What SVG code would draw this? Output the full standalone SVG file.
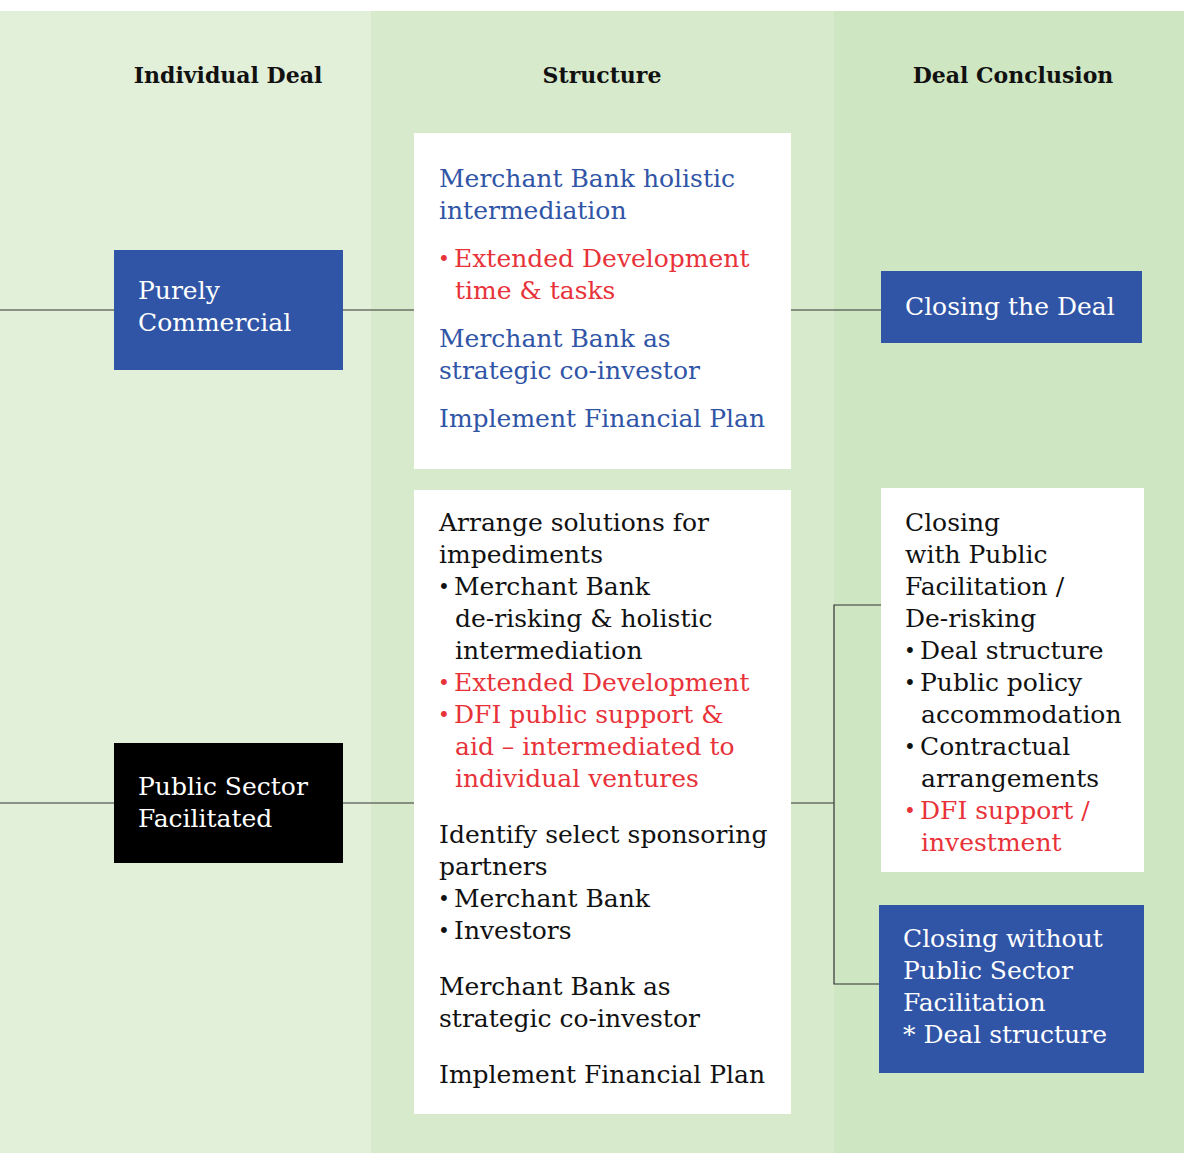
<svg xmlns="http://www.w3.org/2000/svg" width="1184" height="1153" viewBox="0 0 1184 1153">
<style>
text{font-family:"DejaVu Serif","Liberation Serif",serif;font-size:25px;fill:#111}
.h{font-weight:bold;font-size:22px;text-anchor:middle}
.d{font-size:20px}
.b{fill:#3155a6}
.r{fill:#e8323a}
.w{fill:#fff}
.ln{stroke:#333;stroke-width:1.2;fill:none}
</style>
<rect x="0" y="0" width="1184" height="1153" fill="#fff"/>
<rect x="0" y="11" width="371" height="1142" fill="#e2efd9"/>
<rect x="371" y="11" width="463" height="1142" fill="#d8eacc"/>
<rect x="834" y="11" width="350" height="1142" fill="#cfe6c2"/>
<g id="headers">
<text class="h" x="228" y="83">Individual Deal</text>
<text class="h" x="602" y="83">Structure</text>
<text class="h" x="1013" y="83">Deal Conclusion</text>
</g>
<g id="connectors">
<path class="ln" d="M0 310H114M343 310H414M791 310H881"/>
<path class="ln" d="M0 803H114M343 803H414M791 803H834M881 605H834V984H879"/>
</g>
<g id="purely-commercial">
<rect x="114" y="250" width="229" height="120" fill="#3155a6"/>
<text class="w" x="138" y="299">Purely</text>
<text class="w" x="138" y="331">Commercial</text>
</g>
<g id="public-sector-facilitated">
<rect x="114" y="743" width="229" height="120" fill="#000"/>
<text class="w" x="138" y="795">Public Sector</text>
<text class="w" x="138" y="827">Facilitated</text>
</g>
<g id="structure-commercial">
<rect x="414" y="133" width="377" height="336" fill="#fff"/>
<text class="b" x="439" y="187">Merchant Bank holistic</text>
<text class="b" x="439" y="219">intermediation</text>
<text class="r d" x="438" y="266">•</text>
<text class="r" x="454" y="267">Extended Development</text>
<text class="r" x="455" y="299">time &amp; tasks</text>
<text class="b" x="439" y="347">Merchant Bank as</text>
<text class="b" x="439" y="379">strategic co-investor</text>
<text class="b" x="439" y="427">Implement Financial Plan</text>
</g>
<g id="structure-public">
<rect x="414" y="490" width="377" height="624" fill="#fff"/>
<text x="439" y="531">Arrange solutions for</text>
<text x="439" y="563">impediments</text>
<text class="d" x="438" y="594">•</text>
<text x="454" y="595">Merchant Bank</text>
<text x="455" y="627">de-risking &amp; holistic</text>
<text x="455" y="659">intermediation</text>
<text class="r d" x="438" y="690">•</text>
<text class="r" x="454" y="691">Extended Development</text>
<text class="r d" x="438" y="722">•</text>
<text class="r" x="454" y="723">DFI public support &amp;</text>
<text class="r" x="455" y="755">aid – intermediated to</text>
<text class="r" x="455" y="787">individual ventures</text>
<text x="439" y="843">Identify select sponsoring</text>
<text x="439" y="875">partners</text>
<text class="d" x="438" y="906">•</text>
<text x="454" y="907">Merchant Bank</text>
<text class="d" x="438" y="938">•</text>
<text x="454" y="939">Investors</text>
<text x="439" y="995">Merchant Bank as</text>
<text x="439" y="1027">strategic co-investor</text>
<text x="439" y="1083">Implement Financial Plan</text>
</g>
<g id="closing-the-deal">
<rect x="881" y="271" width="261" height="72" fill="#3155a6"/>
<text class="w" x="905" y="315">Closing the Deal</text>
</g>
<g id="closing-with-public">
<rect x="881" y="488" width="263" height="384" fill="#fff"/>
<text x="905" y="531">Closing</text>
<text x="905" y="563">with Public</text>
<text x="905" y="595">Facilitation /</text>
<text x="905" y="627">De-risking</text>
<text class="d" x="904" y="658">•</text>
<text x="920" y="659">Deal structure</text>
<text class="d" x="904" y="690">•</text>
<text x="920" y="691">Public policy</text>
<text x="921" y="723">accommodation</text>
<text class="d" x="904" y="754">•</text>
<text x="920" y="755">Contractual</text>
<text x="921" y="787">arrangements</text>
<text class="r d" x="904" y="818">•</text>
<text class="r" x="920" y="819">DFI support /</text>
<text class="r" x="921" y="851">investment</text>
</g>
<g id="closing-without-public">
<rect x="879" y="905" width="265" height="168" fill="#3155a6"/>
<text class="w" x="903" y="947">Closing without</text>
<text class="w" x="903" y="979">Public Sector</text>
<text class="w" x="903" y="1011">Facilitation</text>
<text class="w" x="903" y="1043">* Deal structure</text>
</g>
</svg>
